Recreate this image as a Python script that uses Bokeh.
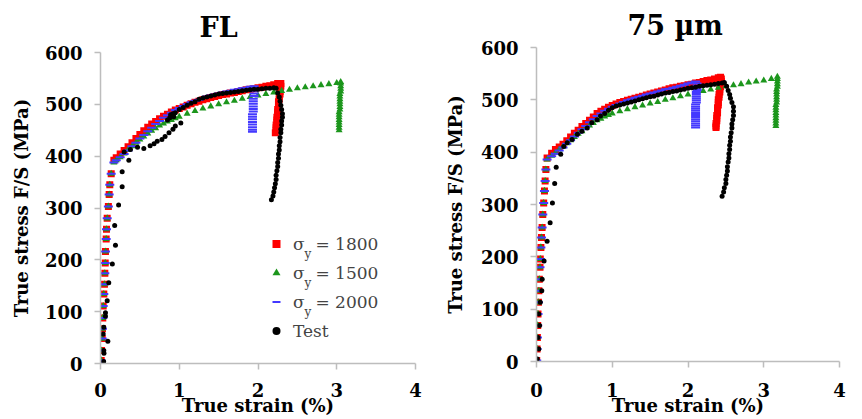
from bokeh.plotting import figure
from bokeh.layouts import row, column
from bokeh.models import Label, Legend, LegendItem, FixedTicker
from bokeh.embed import file_html
from bokeh.resources import INLINE

FONT = "DejaVu Serif"
RED = "#ff0000"
GREEN = "#1c961c"
BLUE = "#4338ff"
BLACK = "#000000"

titles = ["FL", "75 \u00b5m"]
x_label = "True strain (%)"
y_label = "True stress F/S (MPa)"
x_ticks = [0, 1, 2, 3, 4]
y_ticks = [0, 100, 200, 300, 400, 500, 600]
legend_labels = ["\u03c3\u00a0\u00a0= 1800", "\u03c3\u00a0\u00a0= 1500", "\u03c3\u00a0\u00a0= 2000", "Test"]

# ---------------- FL panel ----------------
fl_el_x = [0.003, 0.009, 0.013, 0.022, 0.025, 0.029, 0.034, 0.042, 0.050, 0.055, 0.060, 0.063, 0.072, 0.076, 0.085, 0.100, 0.110, 0.118, 0.136]
fl_el_y = [2, 6, 25, 48, 67, 88, 111, 134, 153, 174, 194, 216, 240, 259, 280, 303, 326, 345, 366]

fl_1800_x = [0.17, 0.20, 0.25, 0.30, 0.35, 0.40, 0.45, 0.50, 0.55, 0.60, 0.65, 0.70, 0.75, 0.80, 0.85, 0.90, 0.95, 1.00, 1.05, 1.10, 1.15, 1.20, 1.25, 1.30, 1.35, 1.40, 1.45, 1.50, 1.55, 1.60, 1.65, 1.70, 1.75, 1.80, 1.85, 1.90, 1.95, 2.00, 2.05, 2.10, 2.15, 2.20, 2.25]
fl_1800_y = [392, 397, 404, 411, 418, 426, 434, 442, 449, 456, 462, 467, 472, 477, 481, 485, 489, 492, 495, 498, 501, 504, 506, 509, 511, 513, 515, 517, 519, 520, 522, 523, 525, 526, 528, 529, 530, 532, 533, 535, 536, 538, 540]
fl_1800_drop_x = [2.29, 2.29, 2.28, 2.28, 2.28, 2.27, 2.27, 2.26, 2.26, 2.26, 2.25, 2.25, 2.25, 2.24, 2.24, 2.24, 2.23, 2.23, 2.23, 2.22]
fl_1800_drop_y = [540, 535, 530, 525, 520, 515, 510, 505, 500, 495, 490, 485, 480, 475, 470, 465, 460, 455, 450, 445]

fl_1500_x = [0.17, 0.20, 0.25, 0.30, 0.35, 0.40, 0.45, 0.50, 0.55, 0.60, 0.65, 0.70, 0.75, 0.80, 0.85, 0.90, 0.95, 1.00, 1.10, 1.20, 1.30, 1.40, 1.50, 1.60, 1.70, 1.80, 1.90, 2.00, 2.10, 2.20, 2.30, 2.40, 2.50, 2.60, 2.70, 2.80, 2.90, 3.00, 3.05]
fl_1500_y = [388, 392, 398, 405, 412, 419, 426, 432, 438, 444, 449, 454, 459, 463, 467, 470, 473, 476, 482, 487, 492, 496, 500, 504, 507, 511, 514, 517, 520, 523, 526, 528, 531, 533, 535, 537, 539, 541, 543]
fl_1500_drop_x = [3.05, 3.05, 3.05, 3.05, 3.04, 3.04, 3.04, 3.04, 3.04, 3.04, 3.04, 3.03, 3.03, 3.03, 3.03, 3.03, 3.03, 3.03, 3.03]
fl_1500_drop_y = [540, 535, 530, 525, 520, 515, 510, 505, 500, 495, 490, 485, 480, 475, 470, 465, 460, 455, 450]

fl_2000_x = [0.17, 0.20, 0.25, 0.30, 0.35, 0.40, 0.45, 0.50, 0.55, 0.60, 0.65, 0.70, 0.75, 0.80, 0.85, 0.90, 0.95, 1.00, 1.05, 1.10, 1.15, 1.20, 1.25, 1.30, 1.35, 1.40, 1.45, 1.50, 1.55, 1.60, 1.65, 1.70, 1.75, 1.80, 1.85, 1.90, 1.95]
fl_2000_y = [388, 392, 398, 404, 411, 419, 426, 434, 441, 448, 455, 462, 468, 474, 479, 484, 489, 493, 497, 500, 504, 507, 509, 512, 515, 517, 519, 521, 523, 525, 526, 528, 529, 531, 532, 534, 535]
fl_2000_drop_x = [1.95, 1.95, 1.95, 1.95, 1.94, 1.94, 1.94, 1.94, 1.94, 1.94, 1.93, 1.93, 1.93, 1.93, 1.93, 1.93, 1.93, 1.93]
fl_2000_drop_y = [531, 526, 521, 516, 511, 506, 501, 496, 491, 486, 481, 476, 471, 466, 461, 456, 451, 447]

fl_test_x = [0.040, 0.044, 0.042, 0.093, 0.034, 0.042, 0.063, 0.063, 0.085, 0.105, 0.15, 0.19, 0.18, 0.23, 0.275, 0.275, 0.36, 0.30,
             0.38, 0.47, 0.55, 0.63, 0.68, 0.72, 0.78, 0.82, 0.87, 0.92, 0.95, 1.02,
             0.85, 0.88, 0.90, 0.92, 0.89, 0.93,
             0.95, 1.00, 1.05, 1.10, 1.15, 1.20, 1.25, 1.30, 1.35, 1.40, 1.45, 1.50, 1.55, 1.60, 1.65, 1.70, 1.75, 1.80, 1.85, 1.90, 1.95, 2.00, 2.05, 2.10, 2.15, 2.20, 2.23,
             2.25, 2.27, 2.28, 2.29, 2.30, 2.31, 2.31, 2.30, 2.30, 2.29, 2.29, 2.28, 2.28, 2.27, 2.27, 2.26, 2.26, 2.25, 2.25, 2.24, 2.23, 2.23, 2.22, 2.21, 2.20, 2.19, 2.17]
fl_test_y = [4, 20, 25, 43, 57, 70, 91, 98, 121, 156, 192, 228, 266, 306, 341, 370, 392, 408,
             413, 417, 415, 420, 424, 429, 432, 438, 445, 452, 458, 464,
             470, 474, 478, 482, 480, 476,
             484, 490, 494, 498, 502, 505, 510, 512, 514, 516, 518, 520, 521, 522, 523, 524, 525, 526, 527, 528, 529, 529, 530, 531, 531, 532, 531,
             522, 514, 506, 498, 490, 482, 475, 468, 460, 452, 445, 436, 428, 420, 412, 404, 396, 388, 380, 372, 363, 355, 347, 339, 331, 323, 316]

# ---------------- 75 um panel ----------------
um_el_x = [0.003, 0.008, 0.012, 0.016, 0.020, 0.026, 0.031, 0.037, 0.046, 0.050, 0.058, 0.066, 0.074, 0.083, 0.095, 0.105, 0.114, 0.124]
um_el_y = [2, 24, 46, 69, 91, 113, 135, 157, 180, 196, 218, 237, 256, 281, 303, 326, 345, 367]

um_1800_x = [0.14, 0.20, 0.25, 0.30, 0.35, 0.40, 0.45, 0.50, 0.55, 0.60, 0.65, 0.70, 0.75, 0.80, 0.85, 0.90, 0.95, 1.00, 1.05, 1.10, 1.15, 1.20, 1.25, 1.30, 1.35, 1.40, 1.45, 1.50, 1.55, 1.60, 1.65, 1.70, 1.75, 1.80, 1.85, 1.90, 1.95, 2.00, 2.05, 2.10, 2.15, 2.20, 2.25, 2.30, 2.35, 2.40, 2.43]
um_1800_y = [389, 398, 405, 410, 415, 422, 429, 436, 442, 449, 455, 461, 467, 474, 478, 482, 486, 489, 492, 495, 497, 499, 501, 503, 505, 507, 509, 511, 513, 515, 517, 519, 521, 523, 524, 526, 527, 529, 530, 532, 533, 535, 537, 538, 540, 542, 543]
um_1800_drop_x = [2.44, 2.44, 2.43, 2.43, 2.42, 2.42, 2.41, 2.41, 2.40, 2.40, 2.40, 2.39, 2.39, 2.39, 2.38, 2.38, 2.38, 2.37, 2.37, 2.37]
um_1800_drop_y = [540, 535, 530, 525, 520, 515, 510, 505, 500, 495, 490, 485, 480, 475, 470, 465, 460, 455, 450, 447]

um_1500_x = [0.14, 0.20, 0.25, 0.30, 0.35, 0.40, 0.45, 0.50, 0.55, 0.60, 0.65, 0.70, 0.75, 0.80, 0.85, 0.90, 0.95, 1.00, 1.10, 1.20, 1.30, 1.40, 1.50, 1.60, 1.70, 1.80, 1.90, 2.00, 2.10, 2.20, 2.30, 2.40, 2.50, 2.60, 2.70, 2.80, 2.90, 3.00, 3.10, 3.18]
um_1500_y = [386, 393, 399, 405, 411, 417, 423, 429, 435, 440, 446, 451, 456, 461, 464, 468, 471, 474, 478, 482, 486, 489, 493, 496, 500, 503, 507, 510, 514, 517, 520, 523, 526, 528, 530, 533, 535, 537, 540, 544]
um_1500_drop_x = [3.18, 3.18, 3.18, 3.18, 3.17, 3.17, 3.17, 3.17, 3.17, 3.17, 3.16, 3.16, 3.16, 3.16, 3.16, 3.16, 3.16, 3.16, 3.16]
um_1500_drop_y = [540, 535, 530, 525, 520, 515, 510, 505, 500, 495, 490, 485, 480, 475, 470, 465, 460, 455, 450]

um_2000_x = [0.14, 0.20, 0.25, 0.30, 0.35, 0.40, 0.45, 0.50, 0.55, 0.60, 0.65, 0.70, 0.75, 0.80, 0.85, 0.90, 0.95, 1.00, 1.05, 1.10, 1.15, 1.20, 1.25, 1.30, 1.35, 1.40, 1.45, 1.50, 1.55, 1.60, 1.65, 1.70, 1.75, 1.80, 1.85, 1.90, 1.95, 2.00, 2.05, 2.10]
um_2000_y = [386, 392, 397, 403, 409, 416, 423, 430, 437, 444, 450, 457, 463, 469, 474, 479, 483, 487, 490, 493, 496, 499, 501, 504, 506, 508, 510, 512, 514, 516, 518, 520, 521, 523, 525, 527, 529, 531, 533, 535]
um_2000_drop_x = [2.12, 2.12, 2.12, 2.12, 2.11, 2.11, 2.11, 2.11, 2.11, 2.11, 2.10, 2.10, 2.10, 2.10, 2.10, 2.10, 2.10, 2.10, 2.10, 2.10, 2.10, 2.10]
um_2000_drop_y = [531, 527, 523, 519, 515, 511, 507, 503, 499, 495, 491, 487, 483, 479, 475, 471, 467, 463, 459, 455, 451, 447]

um_test_x = [0.01, 0.03, 0.02, 0.04, 0.03, 0.05, 0.07, 0.075, 0.10, 0.14, 0.18, 0.21, 0.24, 0.26,
             0.32, 0.36, 0.405, 0.47, 0.54, 0.60, 0.67, 0.73, 0.80, 0.845, 0.90, 0.95,
             1.00, 1.05, 1.10, 1.15, 1.20, 1.25, 1.30, 1.35, 1.40, 1.45, 1.50, 1.55, 1.60, 1.65, 1.70, 1.75, 1.80, 1.85, 1.90, 1.95, 2.00, 2.05, 2.10, 2.15, 2.20, 2.25, 2.30, 2.35, 2.40, 2.45, 2.48,
             2.51, 2.53, 2.55, 2.56, 2.58, 2.60, 2.60, 2.60, 2.59, 2.58, 2.58, 2.57, 2.56, 2.56, 2.55, 2.55, 2.54, 2.54, 2.53, 2.52, 2.52, 2.51, 2.50, 2.50, 2.48, 2.47, 2.45]
um_test_y = [5, 24, 46, 69, 91, 113, 135, 157, 192, 230, 265, 303, 340, 371,
             396, 411, 418, 424, 434, 440, 446, 456, 462, 469, 474, 480,
             485, 488, 490, 492, 494, 496, 498, 500, 502, 504, 506, 507, 509, 511, 513, 514, 516, 517, 519, 520, 522, 523, 524, 526, 527, 528, 529, 530, 531, 532, 533,
             526, 518, 510, 503, 495, 487, 478, 470, 462, 454, 446, 437, 429, 421, 413, 405, 397, 389, 381, 372, 364, 356, 348, 340, 332, 324, 316]


def make_panel(title, borders, title_offset, title_standoff, xstand, xlab_stand, ylab_stand,
               el_x, el_y, s1800, s1500, s2000, test, with_legend):
    bl, br, bt, bb = borders
    p = figure(width=431, height=419, x_range=(0, 4), y_range=(0, 600),
               output_backend="svg", toolbar_location=None,
               min_border_left=bl, min_border_right=br, min_border_top=bt, min_border_bottom=bb)
    p.outline_line_color = None
    p.grid.visible = False
    p.background_fill_color = "white"
    p.border_fill_color = "white"

    p.title.text = title
    p.title.text_font = FONT
    p.title.text_font_style = "bold"
    p.title.text_font_size = "27px"
    p.title.text_color = "black"
    p.title.text_line_height = 0.9
    p.title.align = "left"
    p.title.offset = title_offset
    p.title.standoff = title_standoff

    for ax in (p.xaxis[0], p.yaxis[0]):
        ax.axis_line_color = "#bdbdbd"
        ax.axis_line_width = 1.5
        ax.major_tick_line_color = "#bdbdbd"
        ax.major_tick_line_width = 1.5
        ax.major_tick_out = 6
        ax.major_tick_in = 0
        ax.minor_tick_line_color = None
        ax.major_label_text_font = FONT
        ax.major_label_text_font_style = "bold"
        ax.major_label_text_font_size = "18px"
        ax.major_label_text_color = "black"
        ax.major_label_text_line_height = 0.9
        ax.axis_label_text_font = FONT
        ax.axis_label_text_font_style = "bold"
        ax.axis_label_text_font_size = "18px"
        ax.axis_label_text_color = "black"
        ax.axis_label_text_line_height = 0.9
    p.xaxis.ticker = FixedTicker(ticks=x_ticks)
    p.yaxis.ticker = FixedTicker(ticks=y_ticks)
    p.xaxis.major_label_standoff = xstand
    p.yaxis.major_label_standoff = 12
    p.yaxis.axis_label = y_label
    p.yaxis.axis_label_standoff = ylab_stand
    p.xaxis.axis_label = x_label
    p.xaxis.axis_label_standoff = xlab_stand

    r1 = p.scatter(el_x + s1800[0] + s1800[2], el_y + s1800[1] + s1800[3], marker="square",
                   size=7, fill_color=RED, line_color=None)
    r2 = p.scatter(el_x + s1500[0] + s1500[2], el_y + s1500[1] + s1500[3], marker="triangle",
                   size=7, fill_color=GREEN, line_color=None)
    r3 = p.scatter(el_x + s2000[0] + s2000[2], el_y + s2000[1] + s2000[3], marker="dash",
                   size=9, line_color=BLUE, line_width=2)
    r4 = p.scatter(test[0], test[1], marker="circle", size=5, fill_color=BLACK, line_color=None)

    if with_legend:
        items = [LegendItem(label=legend_labels[i], renderers=[r]) for i, r in enumerate([r1, r2, r3, r4])]
        leg = Legend(items=items, location=(166, 20), padding=0, spacing=4, margin=0,
                     glyph_width=20, glyph_height=25, label_height=25, label_standoff=7,
                     border_line_alpha=0, background_fill_alpha=0,
                     label_text_font=FONT, label_text_font_size="17px")
        p.add_layout(leg)
        for yy in (110, 81, 52):
            p.add_layout(Label(x=204, y=yy, x_units="screen", y_units="screen", text="y",
                               text_font=FONT, text_font_size="12px", text_baseline="alphabetic"))
    return p


left = make_panel(titles[0], (100, 16, 51, 56), 99, 19, 13, -5, 10,
                  fl_el_x, fl_el_y,
                  (fl_1800_x, fl_1800_y, fl_1800_drop_x, fl_1800_drop_y),
                  (fl_1500_x, fl_1500_y, fl_1500_drop_x, fl_1500_drop_y),
                  (fl_2000_x, fl_2000_y, fl_2000_drop_x, fl_2000_drop_y),
                  (fl_test_x, fl_test_y), True)
right = make_panel(titles[1], (105, 23, 46, 58), 91, 14, 15, -5, 12,
                   um_el_x, um_el_y,
                   (um_1800_x, um_1800_y, um_1800_drop_x, um_1800_drop_y),
                   (um_1500_x, um_1500_y, um_1500_drop_x, um_1500_drop_y),
                   (um_2000_x, um_2000_y, um_2000_drop_x, um_2000_drop_y),
                   (um_test_x, um_test_y), False)

layout = row(column(left), column(right))
open("out.html", "w").write(file_html(layout, INLINE))
